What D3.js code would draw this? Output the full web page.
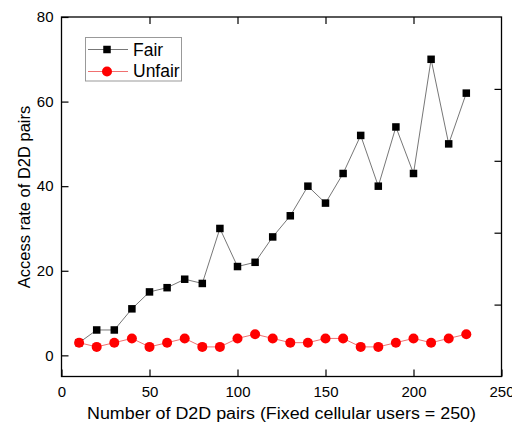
<!DOCTYPE html>
<html><head><meta charset="utf-8">
<script src="https://cdn.jsdelivr.net/npm/d3@7"></script>
<style>body{margin:0;background:#fff}svg{display:block}text{font-family:"Liberation Sans",Arial,sans-serif}</style>
</head><body><svg id="c" width="512" height="423"></svg>
<script>
const xs = [10,20,30,40,50,60,70,80,90,100,110,120,130,140,150,160,170,180,190,200,210,220,230];
const fair = [3,6,6,11,15,16,18,17,30,21,22,28,33,40,36,43,52,40,54,43,70,50,62];
const unfair = [3,2,3,4,2,3,4,2,2,4,5,4,3,3,4,4,2,2,3,4,3,4,5];
const xTicks = [0,50,100,150,200,250];
const yTicks = [0,20,40,60,80];
const seriesNames = ["Fair","Unfair"];

const svg = d3.select("#c");
const L=61.5, R=501.5, T=17, B=376.5;
const x = d3.scaleLinear().domain([0,250]).range([L,R]);
const y = d3.scaleLinear().domain([-5,80]).range([B,T]);

svg.append("rect").attr("x",L).attr("y",T).attr("width",R-L).attr("height",B-T)
  .attr("fill","none").attr("stroke","#000").attr("stroke-width",1.3);

const tl=7;
svg.append("g").attr("transform",`translate(0,${B})`)
  .call(d3.axisBottom(x).tickValues(xTicks).tickSizeInner(-tl).tickSizeOuter(0).tickPadding(9.5))
  .call(g=>{g.select(".domain").remove();g.selectAll("text").attr("font-size",15).attr("fill","#000");g.selectAll("line").attr("stroke-width",1.2);});
svg.append("g").attr("transform",`translate(0,${T})`)
  .call(d3.axisTop(x).tickValues(xTicks.slice(1,-1)).tickSizeInner(-tl).tickSizeOuter(0).tickFormat(""))
  .call(g=>{g.select(".domain").remove();g.selectAll("line").attr("stroke-width",1.2);});
svg.append("g").attr("transform",`translate(${L},0)`)
  .call(d3.axisLeft(y).tickValues(yTicks).tickSizeInner(-tl).tickSizeOuter(0).tickPadding(8))
  .call(g=>{g.select(".domain").remove();g.selectAll("text").attr("font-size",15).attr("fill","#000");g.selectAll("line").attr("stroke-width",1.2);});
const yr = d3.scaleLinear().domain([0,5]).range([B,T]);
svg.append("g").attr("transform",`translate(${R},0)`)
  .call(d3.axisRight(yr).tickValues([1,2,3,4]).tickSizeInner(-tl).tickSizeOuter(0).tickFormat(""))
  .call(g=>{g.select(".domain").remove();g.selectAll("line").attr("stroke-width",1.2);});

svg.append("text").attr("x",87).attr("y",419).attr("font-size",16)
  .attr("textLength",389).attr("lengthAdjust","spacingAndGlyphs")
  .text("Number of D2D pairs (Fixed cellular users = 250)");
svg.append("text").attr("transform",`translate(30,197) rotate(-90)`).attr("text-anchor","middle").attr("font-size",16.5)
  .text("Access rate of D2D pairs");

const line = d3.line().x(d=>x(d[0])).y(d=>y(d[1]));
const fd = xs.map((v,i)=>[v,fair[i]]);
const ud = xs.map((v,i)=>[v,unfair[i]]);

svg.append("path").datum(fd).attr("d",line).attr("fill","none").attr("stroke","#777").attr("stroke-width",1);
svg.append("path").datum(ud).attr("d",line).attr("fill","none").attr("stroke","#f07070").attr("stroke-width",1);
const s=7.5;
svg.selectAll(".sq").data(fd).join("rect").attr("x",d=>x(d[0])-s/2).attr("y",d=>y(d[1])-s/2)
  .attr("width",s).attr("height",s).attr("fill","#000");
svg.selectAll(".ci").data(ud).join("circle").attr("cx",d=>x(d[0])).attr("cy",d=>y(d[1])).attr("r",5).attr("fill","#ff0000");

const lg = svg.append("g");
lg.append("rect").attr("x",85.5).attr("y",37.5).attr("width",96).attr("height",43.5).attr("fill","#fff").attr("stroke","#999").attr("stroke-width",1);
lg.append("line").attr("x1",88).attr("x2",128).attr("y1",49.5).attr("y2",49.5).attr("stroke","#777");
lg.append("rect").attr("x",107-s/2).attr("y",49.5-s/2).attr("width",s).attr("height",s).attr("fill","#000");
lg.append("line").attr("x1",88).attr("x2",128).attr("y1",71.5).attr("y2",71.5).attr("stroke","#f07070");
lg.append("circle").attr("cx",107).attr("cy",71.5).attr("r",5).attr("fill","#ff0000");
lg.append("text").attr("x",133).attr("y",56).attr("font-size",17.5).text(seriesNames[0]);
lg.append("text").attr("x",133).attr("y",77).attr("font-size",17.5).text(seriesNames[1]);
</script></body></html>
